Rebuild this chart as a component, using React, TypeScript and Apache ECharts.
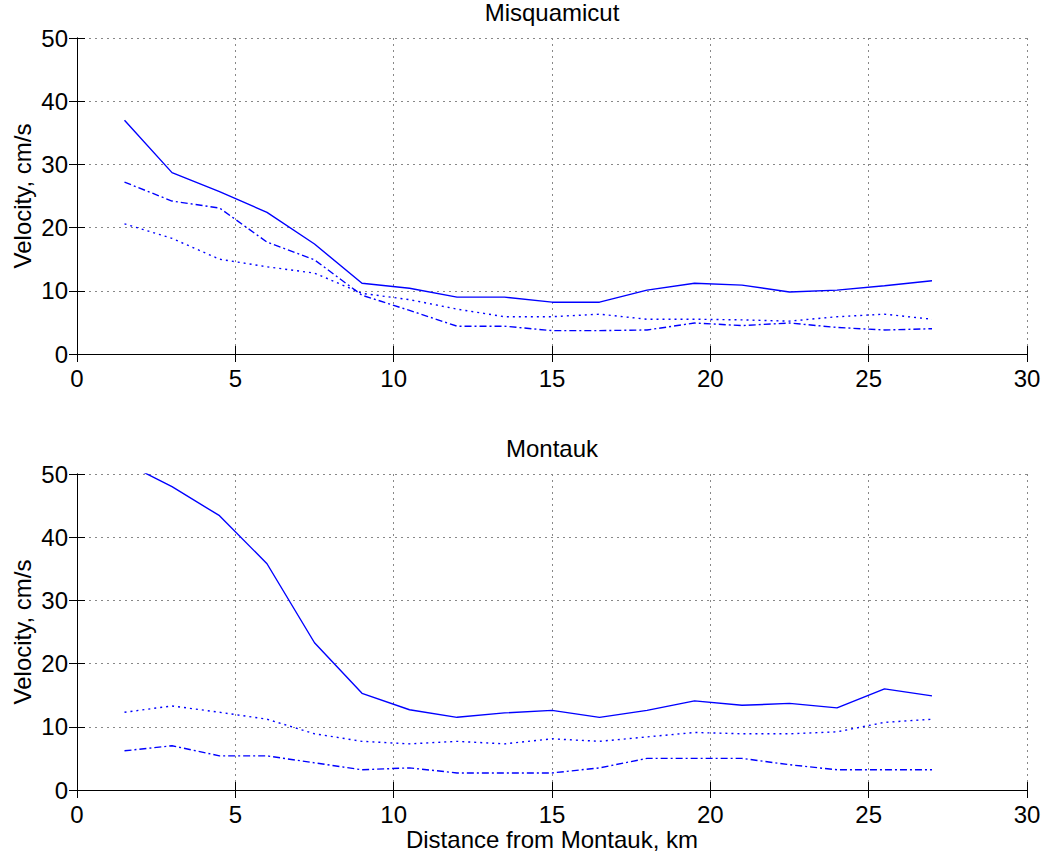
import React, { useEffect, useRef } from "react";
import * as echarts from "echarts";

// distance from Montauk, km
const distance = [1.5, 3, 4.5, 6, 7.5, 9, 10.5, 12, 13.5, 15, 16.5, 18, 19.5, 21, 22.5, 24, 25.5, 27];

// Misquamicut (top panel)
const misSolid = [37.0, 28.7, 25.7, 22.4, 17.4, 11.2, 10.4, 9.0, 9.0, 8.2, 8.2, 10.1, 11.2, 10.9, 9.8, 10.1, 10.8, 11.6];
const misDashDot = [27.2, 24.2, 23.1, 17.7, 14.9, 9.3, 6.9, 4.4, 4.4, 3.7, 3.7, 3.8, 4.9, 4.5, 4.9, 4.2, 3.8, 4.0];
const misDotted = [20.6, 18.3, 15.0, 13.8, 12.8, 9.6, 8.6, 7.1, 5.9, 5.9, 6.3, 5.5, 5.5, 5.4, 5.2, 5.9, 6.3, 5.5];

// Montauk (bottom panel)
const monSolid = [51.8, 48.0, 43.4, 35.8, 23.3, 15.3, 12.7, 11.5, 12.2, 12.6, 11.5, 12.6, 14.1, 13.4, 13.7, 13.0, 16.0, 14.9];
const monDotted = [12.3, 13.3, 12.3, 11.2, 8.9, 7.7, 7.3, 7.7, 7.3, 8.1, 7.7, 8.4, 9.1, 8.9, 8.9, 9.2, 10.7, 11.2];
const monDashDot = [6.2, 7.0, 5.4, 5.4, 4.3, 3.2, 3.5, 2.7, 2.7, 2.7, 3.5, 5.0, 5.0, 5.0, 4.0, 3.2, 3.2, 3.2];

const titles = ["Misquamicut", "Montauk"];
const yLabel = "Velocity, cm/s";
const xLabel = "Distance from Montauk, km";

const FONT = '"Liberation Sans", Arial, Helvetica, sans-serif';
const FS = 24;
const BLUE = "#0000ff";
const GRID_LEFT = 77;
const GRID_W = 950;
const GRID_H = 316;
const GRID_TOPS = [38, 474];

const pairs = (ys: number[]) => distance.map((x, i) => [x, ys[i]]);

const App = () => {
  const chartRef = useRef<HTMLDivElement>(null);

  useEffect(() => {
    if (!chartRef.current) return;
    document.body.style.margin = "0";

    const chart = echarts.init(chartRef.current, undefined, { renderer: "svg" });

    const axisLine = { show: true, lineStyle: { color: "#000", width: 1 } };
    const tick = { show: true, inside: true, length: 8, lineStyle: { color: "#000" } };
    const split = { show: true, lineStyle: { color: "#888", type: [2, 4], width: 1 } };
    const label = { color: "#000", fontSize: FS, fontFamily: FONT };

    const xAxis: any[] = [];
    const yAxis: any[] = [];
    GRID_TOPS.forEach((_, g) => {
      xAxis.push(
        {
          gridIndex: g, type: "value", min: 0, max: 30, interval: 5, position: "bottom",
          axisLine, axisTick: tick, splitLine: split,
          axisLabel: { ...label, margin: 12 },
        },
        {
          gridIndex: g, type: "value", min: 0, max: 30, interval: 5, position: "top",
          axisLine, axisTick: tick, splitLine: { show: false }, axisLabel: { show: false },
        }
      );
      yAxis.push(
        {
          gridIndex: g, type: "value", min: 0, max: 50, interval: 10, position: "left",
          axisLine, axisTick: tick, splitLine: split,
          axisLabel: { ...label, margin: 9 },
        },
        {
          gridIndex: g, type: "value", min: 0, max: 50, interval: 10, position: "right",
          axisLine, axisTick: tick, splitLine: { show: false }, axisLabel: { show: false },
        }
      );
    });

    const line = (g: number, data: number[], type: any) => ({
      type: "line",
      xAxisIndex: g * 2,
      yAxisIndex: g * 2,
      data: pairs(data),
      showSymbol: false,
      clip: true,
      lineStyle: { color: BLUE, width: 1.4, type },
    });

    const dashDot = [7, 3, 2, 3];
    const dotted = [2, 4];

    const texts: any[] = [];
    GRID_TOPS.forEach((top, g) => {
      texts.push({
        type: "text",
        x: GRID_LEFT + GRID_W / 2,
        y: top - 26,
        style: { text: titles[g], fill: "#000", font: `${FS}px ${FONT}`, textAlign: "center", textVerticalAlign: "middle" },
      });
      texts.push({
        type: "text",
        x: 22,
        y: top + GRID_H / 2,
        rotation: Math.PI / 2,
        style: { text: yLabel, fill: "#000", font: `${FS}px ${FONT}`, textAlign: "center", textVerticalAlign: "middle" },
      });
    });
    texts.push({
      type: "text",
      x: GRID_LEFT + GRID_W / 2,
      y: 839,
      style: { text: xLabel, fill: "#000", font: `${FS}px ${FONT}`, textAlign: "center", textVerticalAlign: "middle" },
    });

    const option: any = {
      animation: false,
      backgroundColor: "#fff",
      textStyle: { fontFamily: FONT },
      grid: GRID_TOPS.map((top) => ({
        left: GRID_LEFT, top, width: GRID_W, height: GRID_H, containLabel: false,
      })),
      xAxis,
      yAxis,
      graphic: texts,
      series: [
        line(0, misSolid, "solid"),
        line(0, misDashDot, dashDot),
        line(0, misDotted, dotted),
        line(1, monSolid, "solid"),
        line(1, monDotted, dotted),
        line(1, monDashDot, dashDot),
      ],
    };

    chart.setOption(option);

    return () => {
      chart.dispose();
    };
  }, []);

  return <div ref={chartRef} style={{ width: "1047px", height: "854px" }} />;
};

export default App;
